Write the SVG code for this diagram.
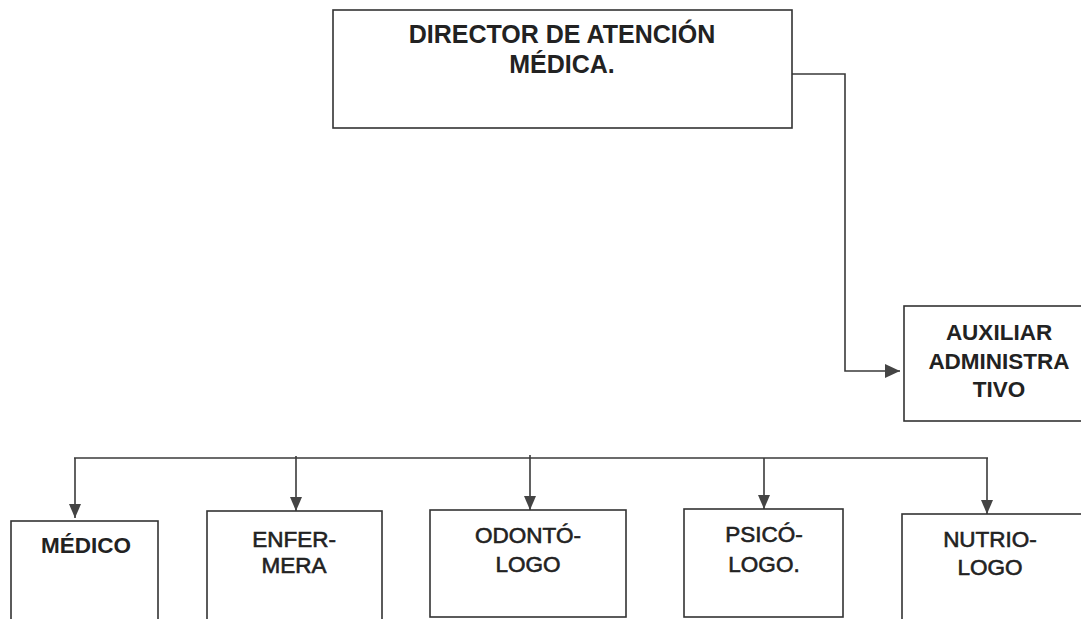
<svg xmlns="http://www.w3.org/2000/svg" width="1081" height="619" viewBox="0 0 1081 619">
  <style>
    .box { fill: #ffffff; stroke: #333333; stroke-width: 1.6; }
    .line { fill: none; stroke: #3a3a3a; stroke-width: 1.6; }
    .t { font-family: "Liberation Sans", Arial, sans-serif; fill: #222222; text-anchor: middle; }
    .b { font-weight: bold; }
    .r { stroke: #222222; stroke-width: 0.6; }
    .big { font-size: 25px; }
    .mid { font-size: 22.5px; }
  </style>
  <defs>
    <marker id="arr" viewBox="0 0 14 12" refX="14" refY="6" markerWidth="14" markerHeight="12" markerUnits="userSpaceOnUse" orient="auto">
      <path d="M0,0 L14,6 L0,12 Z" fill="#444444"/>
    </marker>
    <marker id="arrL" viewBox="0 0 15 14" refX="15" refY="7" markerWidth="15" markerHeight="14" markerUnits="userSpaceOnUse" orient="auto">
      <path d="M0,0 L15,7 L0,14 Z" fill="#444444"/>
    </marker>
  </defs>
  <rect width="1081" height="619" fill="#ffffff"/>

  <g id="connectors">
    <polyline class="line" points="792,74 845,74 845,371 900,371" marker-end="url(#arrL)"/>
    <line class="line" x1="74" y1="458" x2="988" y2="458"/>
    <line class="line" x1="75" y1="458" x2="75" y2="518" marker-end="url(#arr)"/>
    <line class="line" x1="296" y1="456" x2="296" y2="511" marker-end="url(#arr)"/>
    <line class="line" x1="530" y1="455" x2="530" y2="510" marker-end="url(#arr)"/>
    <line class="line" x1="764" y1="458" x2="764" y2="509" marker-end="url(#arr)"/>
    <line class="line" x1="987" y1="458" x2="987" y2="514" marker-end="url(#arr)"/>
  </g>

  <g id="director">
    <rect class="box" x="333" y="10" width="459" height="118"/>
    <text class="t b big" x="562" y="43">DIRECTOR DE ATENCIÓN</text>
    <text class="t b big" x="562" y="73">MÉDICA.</text>
  </g>

  <g id="auxiliar">
    <rect class="box" x="904" y="306" width="185" height="115"/>
    <text class="t b mid" x="999" y="340">AUXILIAR</text>
    <text class="t b mid" x="999" y="369">ADMINISTRA</text>
    <text class="t b mid" x="999" y="397">TIVO</text>
  </g>

  <g id="medico">
    <rect class="box" x="11" y="521" width="147" height="105"/>
    <text class="t b mid" x="86" y="553">MÉDICO</text>
  </g>

  <g id="enfermera">
    <rect class="box" x="207" y="511" width="175" height="115"/>
    <text class="t r mid" x="294" y="547">ENFER-</text>
    <text class="t r mid" x="294" y="573">MERA</text>
  </g>

  <g id="odontologo">
    <rect class="box" x="430" y="510" width="196" height="107"/>
    <text class="t r mid" x="528" y="543">ODONTÓ-</text>
    <text class="t r mid" x="528" y="572">LOGO</text>
  </g>

  <g id="psicologo">
    <rect class="box" x="684" y="509" width="159" height="108"/>
    <text class="t r mid" x="764" y="542">PSICÓ-</text>
    <text class="t r mid" x="764" y="572">LOGO.</text>
  </g>

  <g id="nutriologo">
    <rect class="box" x="902" y="514" width="187" height="112"/>
    <text class="t r mid" x="990" y="547">NUTRIO-</text>
    <text class="t r mid" x="990" y="575">LOGO</text>
  </g>
</svg>
